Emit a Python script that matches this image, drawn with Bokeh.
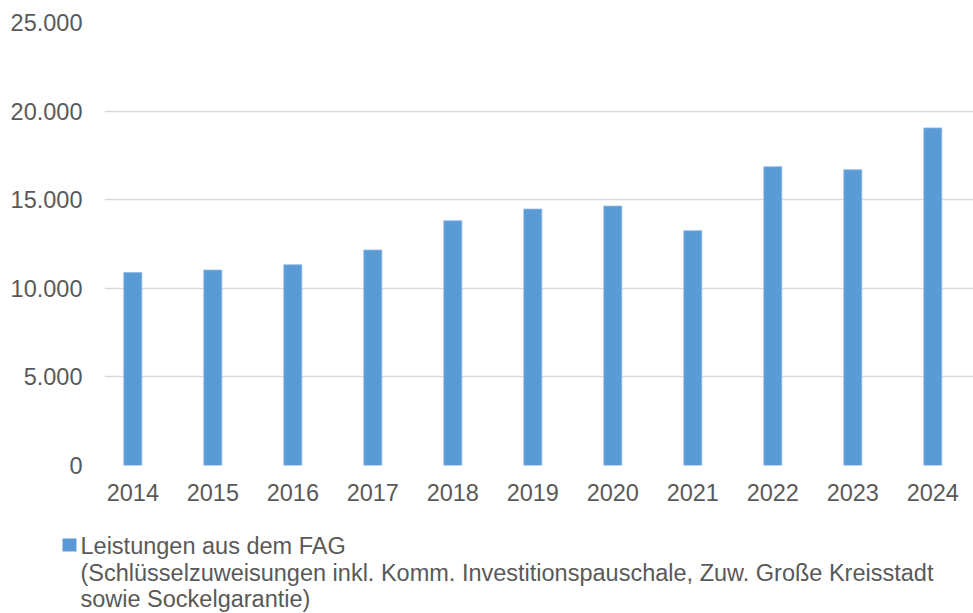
from bokeh.plotting import figure
from bokeh.models import FixedTicker, Range1d
from bokeh.core.properties import value
from bokeh.embed import file_html
from bokeh.resources import INLINE

years = [2014, 2015, 2016, 2017, 2018, 2019, 2020, 2021, 2022, 2023, 2024]
values = [10890, 11030, 11330, 12160, 13810, 14470, 14640, 13250, 16860, 16690, 19050]
x_tick_labels = [str(y) for y in years]
y_ticks = [0, 5000, 10000, 15000, 20000, 25000]
y_tick_labels = ["0", "5.000", "10.000", "15.000", "20.000", "25.000"]
legend_lines = [
    "Leistungen aus dem FAG",
    "(Schlüsselzuweisungen inkl. Komm. Investitionspauschale, Zuw. Große Kreisstadt",
    "sowie Sockelgarantie)",
]

BAR = "#5B9BD5"
TXT = "#595959"
FONT = "Liberation Sans"

W, H = 973, 613
left, right, top, bottom = 104, 0, 22, 148
X0, X1 = 2013.646, 2024.509
Y0, Y1 = 0, 25000
frame_w = W - left - right
frame_h = H - top - bottom


def px_to_x(px):
    return X0 + (px - left) * (X1 - X0) / frame_w


def py_to_y(py):
    return Y1 - (py - top) * (Y1 - Y0) / frame_h


p = figure(width=W, height=H, output_backend="svg", toolbar_location=None,
           x_range=Range1d(X0, X1), y_range=Range1d(Y0, Y1),
           min_border_left=left, min_border_right=right,
           min_border_top=top, min_border_bottom=bottom)
p.outline_line_color = None
p.background_fill_color = "white"
p.border_fill_color = "white"

p.vbar(x=years, top=values, width=0.225, fill_color=BAR, line_color="#8DB8E3", line_width=0.8)

p.xgrid.grid_line_color = None
p.ygrid.grid_line_color = "#D9D9D9"
p.ygrid.grid_line_width = 1.4
p.ygrid.ticker = FixedTicker(ticks=y_ticks)

p.xaxis.ticker = FixedTicker(ticks=years)
p.xaxis.major_label_overrides = dict(zip(years, x_tick_labels))
p.yaxis.ticker = FixedTicker(ticks=y_ticks)
p.yaxis.major_label_overrides = dict(zip(y_ticks, y_tick_labels))
for ax in (p.xaxis, p.yaxis):
    ax.axis_line_color = None
    ax.major_tick_line_color = None
    ax.minor_tick_line_color = None
    ax.major_tick_out = 0
    ax.major_tick_in = 0
    ax.minor_tick_out = 0
    ax.minor_tick_in = 0
    ax.major_label_text_font = FONT
    ax.major_label_text_font_size = "23.5px"
    ax.major_label_text_color = TXT
p.xaxis.major_label_standoff = 18
p.yaxis.major_label_standoff = 22

# legend below the plot area (overlay level so it is not clipped to the frame)
centers = [545, 572, 598.5]
p.text(x=[px_to_x(80)] * len(legend_lines), y=[py_to_y(c) for c in centers],
       text=legend_lines, text_font=value(FONT), text_font_size="23.5px",
       text_color=TXT, text_baseline="middle", text_align="left",
       level="overlay")
p.quad(left=[px_to_x(62)], right=[px_to_x(76)], top=[py_to_y(538)], bottom=[py_to_y(551)],
       fill_color=BAR, line_color=None, level="overlay")

open("out.html", "w").write(file_html(p, INLINE))
